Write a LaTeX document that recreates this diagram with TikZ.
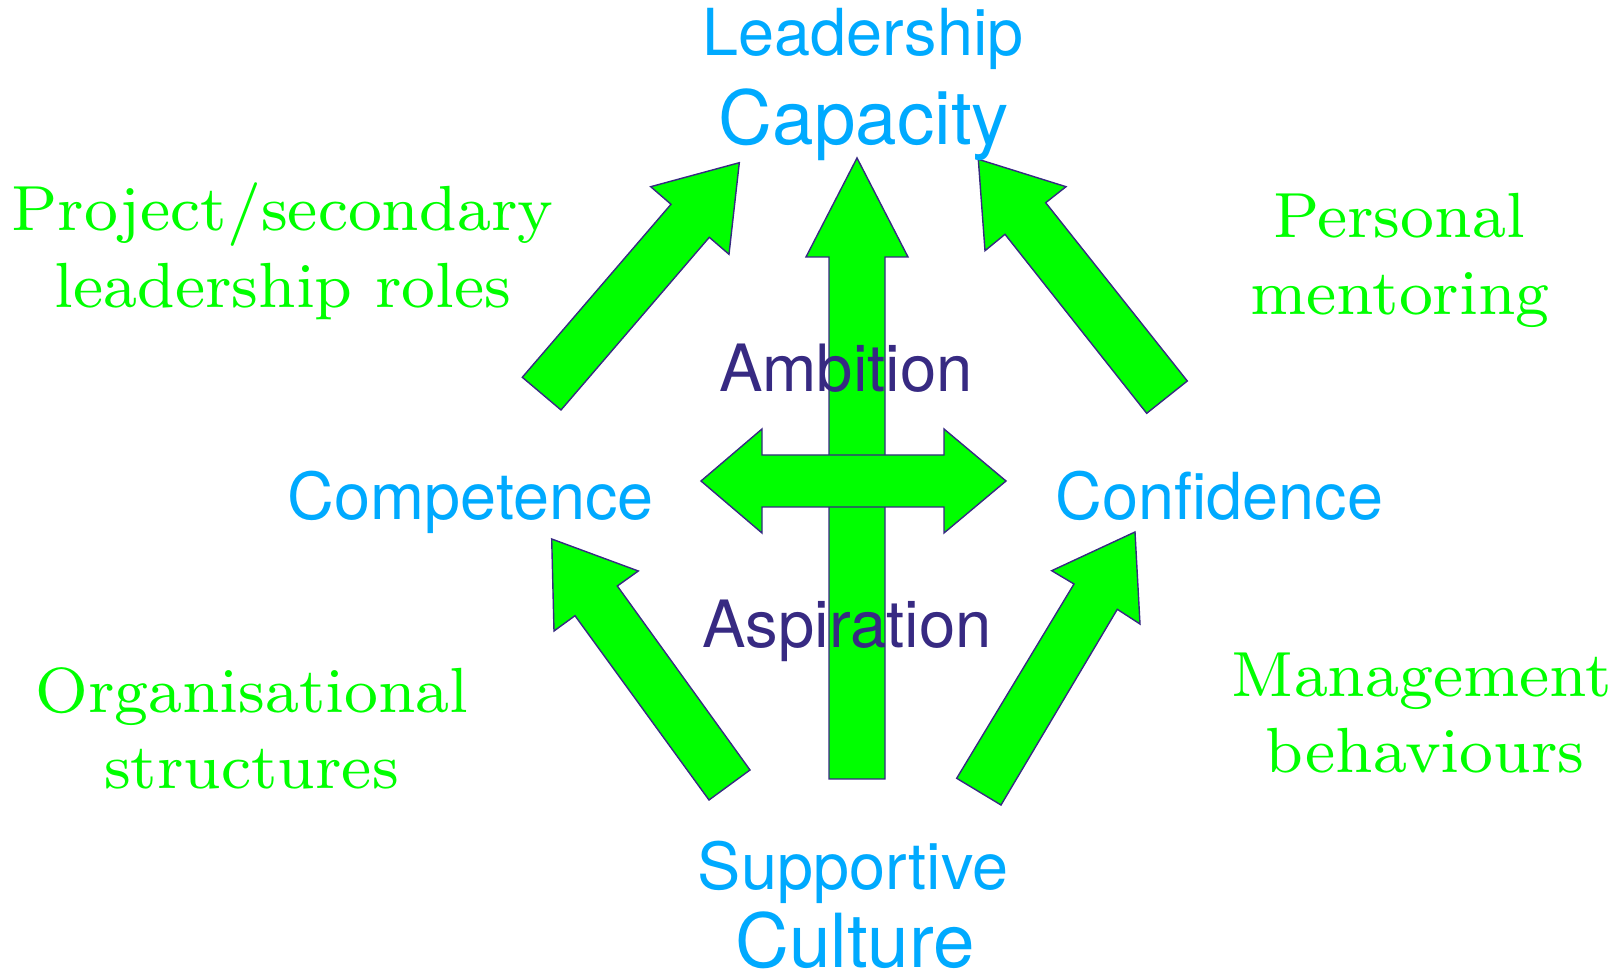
\documentclass[tikz,border=0pt]{standalone}
\usepackage{fontspec}
\setsansfont{TeX Gyre Heros}
\newfontfamily\greenserif{lmroman8-regular.otf}
\definecolor{skyblue}{RGB}{0,170,255}
\definecolor{lgreen}{RGB}{0,255,0}
\definecolor{navyline}{RGB}{55,42,130}
\begin{document}
\begin{tikzpicture}[x=0.5pt,y=-0.5pt,
  blockarrow/.style={fill=lgreen,draw=navyline,line width=0.7pt,line join=miter},
  bluetext/.style={text=skyblue,font=\sffamily\fontsize{32.4}{38}\selectfont,inner sep=0pt,anchor=base},
  bigblue/.style={bluetext,font=\sffamily\fontsize{37.3}{44}\selectfont},
  purpletext/.style={text=navyline,font=\sffamily\fontsize{32.6}{38}\selectfont,inner sep=0pt,anchor=base},
  greentext/.style={text=lgreen,font=\greenserif\fontsize{31.9}{38}\selectfont,inner sep=0pt,anchor=base}]
\useasboundingbox (0,0) rectangle (1619,978);
% diagonal block arrows
\draw[blockarrow] (739.3,162.7) -- (729,254.3) -- (709.3,237.3) -- (561,410) -- (522.3,377.3) -- (671,204.3) -- (650.7,186.7) -- cycle;
\draw[blockarrow] (978.3,159.3) -- (1066,186.7) -- (1045.7,202.7) -- (1187.3,381) -- (1146.7,413.3) -- (1005,234.3) -- (985,250.7) -- cycle;
\draw[blockarrow] (551.7,539) -- (638.3,571) -- (617.3,586) -- (750,770) -- (709,800) -- (575,615.7) -- (554,631) -- cycle;
\draw[blockarrow] (1135,532) -- (1051.7,570.7) -- (1074,584) -- (956.7,778.3) -- (1001,805) -- (1117.3,609.3) -- (1140,624) -- cycle;
% vertical arrow
\draw[blockarrow] (857,158) -- (908,257) -- (885,257) -- (885,779) -- (829,779) -- (829,257) -- (806,257) -- cycle;
% horizontal double arrow
\draw[blockarrow] (701,481) -- (762,429) -- (762,455) -- (944,455) -- (944,429) -- (1006,481) -- (944,533) -- (944,507) -- (762,507) -- (762,533) -- cycle;
% labels
\node[bluetext] (lead) at (863,56) {Leadership};
\node[bigblue] (cap) at (864,145) {Capacity};
\node[bluetext] (comp) at (470.5,520) {Competence};
\node[bluetext] (conf) at (1219.5,520) {Confidence};
\node[bluetext] (supp) at (853,889) {Supportive};
\node[bigblue] (cult) at (855,967) {Culture};
\node[purpletext] (amb) at (846,392) {Ambition};
\node[purpletext] (asp) at (847,648) {Aspiration};
\node[greentext] (proj1) at (282.5,231) {Project/secondary};
\node[greentext] (proj2) at (283,308) {leadership roles};
\node[greentext] (pers1) at (1399,238) {Personal};
\node[greentext] (pers2) at (1400,315) {mentoring};
\node[greentext] (org1) at (252,713) {Organisational};
\node[greentext] (org2) at (251.5,789) {structures};
\node[greentext] (man1) at (1422,697) {Management};
\node[greentext] (man2) at (1425,773) {behaviours};
\end{tikzpicture}
\end{document}
